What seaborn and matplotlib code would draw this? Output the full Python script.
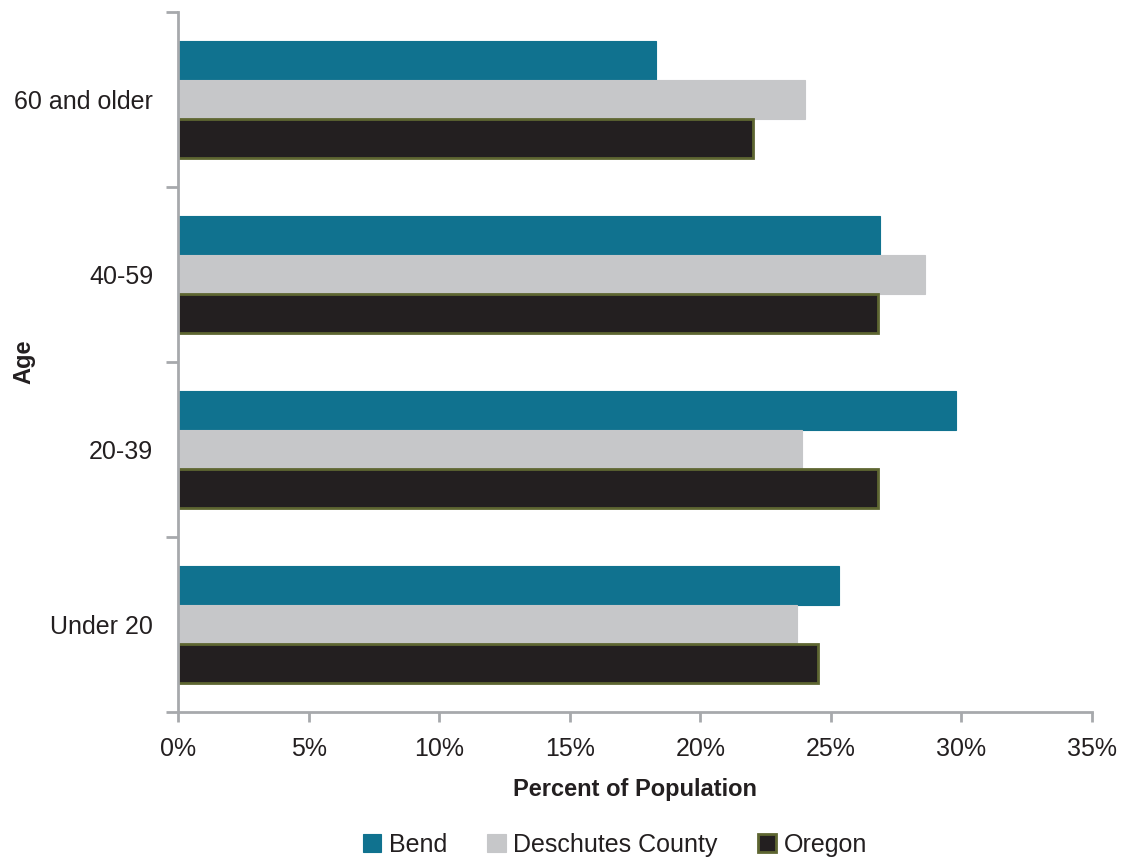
import matplotlib
matplotlib.use("Agg")
import matplotlib.pyplot as plt
import seaborn as sns
import pandas as pd
from matplotlib.ticker import FixedLocator, PercentFormatter

# Age groups, listed from top of the chart to bottom
age_groups = ["60 and older", "40-59", "20-39", "Under 20"]
areas = ["Bend", "Deschutes County", "Oregon"]

# Share of population (%) per age group
bend = [18.3, 26.9, 29.8, 25.3]
deschutes = [24.0, 28.6, 23.9, 23.7]
oregon = [22.0, 26.8, 26.8, 24.5]

colors = ["#10728F", "#C6C7C9", "#231F20"]
edge_colors = ["#10728F", "#C6C7C9", "#5E6631"]

df = pd.DataFrame({
    "Age": age_groups * 3,
    "Area": [a for a in areas for _ in age_groups],
    "Percent": bend + deschutes + oregon,
})

sns.set_theme(style="white")
plt.rcParams["font.family"] = ["Liberation Sans", "DejaVu Sans"]

fig = plt.figure(figsize=(11.21, 8.59), dpi=100)
ax = fig.add_axes([178 / 1121, 1 - 712 / 859, (1092 - 178) / 1121, (712 - 12) / 859])

sns.barplot(data=df, x="Percent", y="Age", hue="Area", order=age_groups,
            hue_order=areas, palette=colors, width=0.67, orient="h",
            saturation=1, ax=ax, legend=True)

# Edge colours per series
for container, ec in zip(ax.containers, edge_colors):
    for bar in container:
        bar.set_edgecolor(ec)
        bar.set_linewidth(2.0 if ec == "#5E6631" else 0.8)

ax.set_xlim(0, 35)
ax.set_ylim(3.5, -0.5)
ax.xaxis.set_major_locator(FixedLocator(range(0, 36, 5)))
ax.xaxis.set_major_formatter(PercentFormatter(decimals=0))

# Category labels without ticks, boundary ticks as minor ticks
ax.tick_params(axis="y", which="major", length=0, pad=18, labelsize=18, labelcolor="#231F20")
ax.yaxis.set_minor_locator(FixedLocator([-0.5, 0.5, 1.5, 2.5, 3.5]))
ax.tick_params(axis="y", which="minor", left=True, length=9, width=2, color="#A7A9AC")
ax.tick_params(axis="x", which="major", bottom=True, length=7, width=2, color="#A7A9AC",
               labelsize=18, labelcolor="#231F20", pad=11)

for side in ["top", "right"]:
    ax.spines[side].set_visible(False)
for side in ["left", "bottom"]:
    ax.spines[side].set_color("#A7A9AC")
    ax.spines[side].set_linewidth(2)

ax.set_xlabel("Percent of Population", fontsize=17, fontweight="bold", color="#231F20", labelpad=12)
ax.set_ylabel("Age", fontsize=17, fontweight="bold", color="#231F20")
ax.yaxis.set_label_coords((35 - 178) / 914, 0.5)

handles, labels = ax.get_legend_handles_labels()
for h, ec in zip(handles, edge_colors):
    h.set_edgecolor(ec)
    h.set_linewidth(2.0 if ec == "#5E6631" else 0.8)
ax.legend(handles, labels, loc="center", bbox_to_anchor=(0.478, -0.19), ncol=3,
          frameon=False, fontsize=18, handlelength=0.75, handleheight=0.75,
          handletextpad=0.3, columnspacing=1.6, labelcolor="#231F20")

fig.savefig("out.png", dpi=100)
